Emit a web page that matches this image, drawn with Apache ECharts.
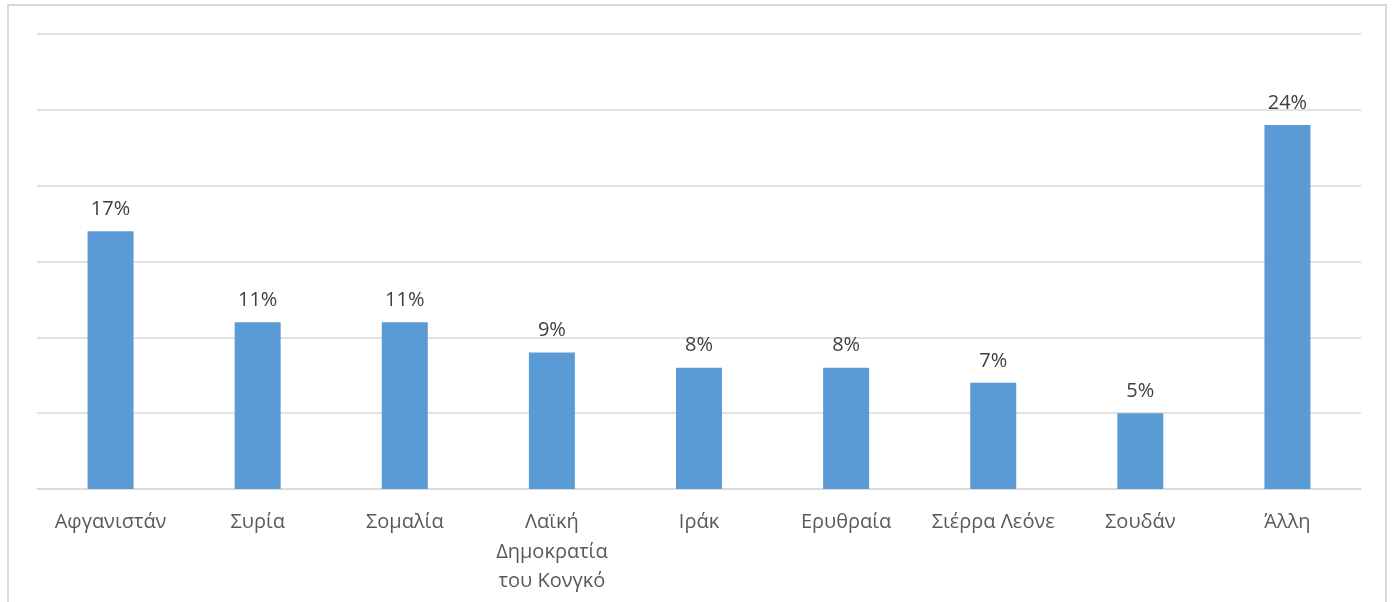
<!DOCTYPE html>
<html>
<head>
<meta charset="utf-8">
<script src="https://cdn.jsdelivr.net/npm/echarts@6/dist/echarts.min.js"></script>
<style>
html,body{margin:0;padding:0;background:#fff;}
#frame{position:absolute;left:7px;top:4px;width:1380px;height:640px;border:2px solid #d9d9d9;box-sizing:border-box;}
#chart{position:absolute;left:0;top:0;width:1395px;height:602px;}
</style>
</head>
<body>
<div id="frame"></div>
<div id="chart"></div>
<script>
const categories = ["Αφγανιστάν", "Συρία", "Σομαλία", "Λαϊκή\nΔημοκρατία\nτου Κονγκό", "Ιράκ", "Ερυθραία", "Σιέρρα Λεόνε", "Σουδάν", "Άλλη"];
const values = [17, 11, 11, 9, 8, 8, 7, 5, 24];

const chart = echarts.init(document.getElementById('chart'));
chart.setOption({
  animation: false,
  grid: {left: 37, right: 34, top: 34, bottom: 113, containLabel: false},
  xAxis: {
    type: 'category',
    data: categories,
    axisLine: {lineStyle: {color: '#d9d9d9', width: 1.5}},
    axisTick: {show: false},
    axisLabel: {
      color: '#595959', fontSize: 20, fontFamily: 'Open Sans', lineHeight: 29.5,
      margin: 19, interval: 0
    }
  },
  yAxis: {
    type: 'value', min: 0, max: 30, interval: 5,
    axisLabel: {show: false},
    axisLine: {show: false},
    axisTick: {show: false},
    splitLine: {lineStyle: {color: '#d9d9d9', width: 1.5}}
  },
  series: [{
    type: 'bar',
    data: values,
    barWidth: 46,
    itemStyle: {color: '#5b9bd5'},
    label: {
      show: true, position: 'top', distance: 12,
      formatter: p => p.value + '%',
      color: '#404040', fontSize: 20, fontFamily: 'Open Sans'
    }
  }]
});
</script>
</body>
</html>
